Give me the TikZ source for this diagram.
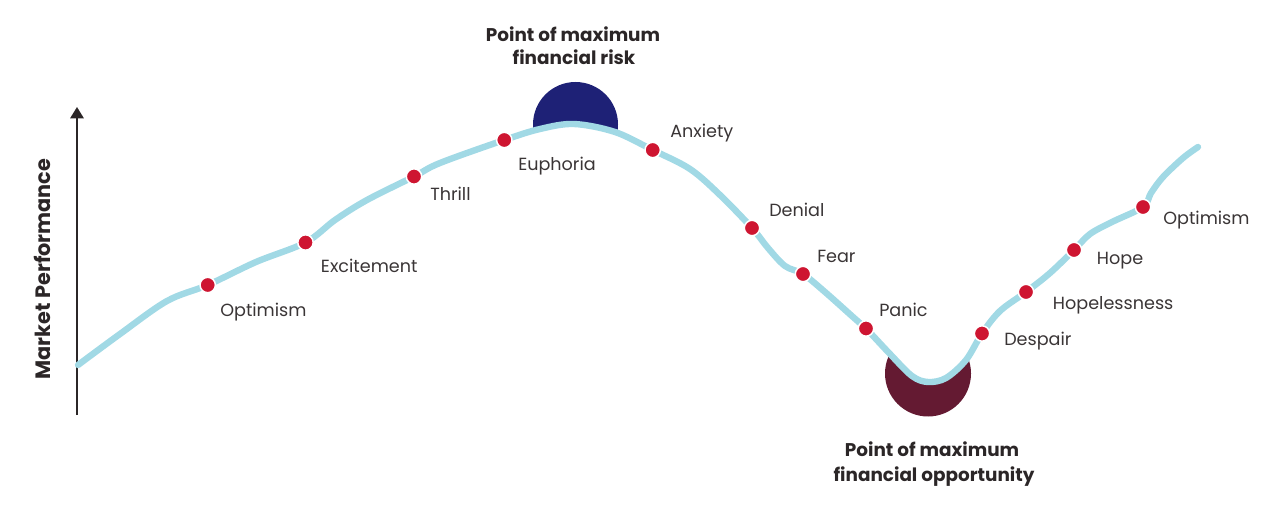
\documentclass[tikz,border=0pt]{standalone}
\usepackage{fontspec}
\setmainfont{Poppins}
\usetikzlibrary{arrows.meta}
\definecolor{curveblue}{HTML}{A1D9E5}
\definecolor{dotred}{HTML}{CE1531}
\definecolor{risknavy}{HTML}{1E2176}
\definecolor{oppred}{HTML}{641A32}
\definecolor{txtgray}{HTML}{3A3536}
\definecolor{ttlgray}{HTML}{2B2627}
\tikzset{
  dotmark/.style={circle,fill=dotred,draw=white,line width=1.1pt,inner sep=0pt,minimum size=11.5pt},
  lbl/.style={anchor=base west,inner sep=0pt,text=txtgray,font=\fontsize{13.2}{16}\selectfont},
  ttl/.style={anchor=base,inner sep=0pt,text=ttlgray,font=\fontsize{13.8}{16}\selectfont\bfseries},
}
\def\curvepath{plot[smooth,tension=0.55] coordinates {(78,365) (120,334) (167,301) (207.7,285) (256,262) (305.5,242.5) (335,220) (367,200) (414,176.5) (440,163) (504.3,140) (540,129) (574,124) (615,132) (652.7,150) (690,169) (720,195) (752,228) (768,248) (785,266) (803,274) (825,292) (853,317) (866,328.5) (890,354) (912,376) (928,382) (946,378) (966,360) (982,333.5) (1000,311) (1026,292) (1050,273) (1074,250) (1090,234) (1112,222) (1143,207) (1151,193) (1163,177) (1183,158) (1198,147)}}
\begin{document}
\begin{tikzpicture}[x=0.75pt,y=-0.75pt]
\useasboundingbox (0,0) rectangle (1280,523);
% highlight discs clipped by the curve
\begin{scope}
  \clip \curvepath -- (1198,0) -- (78,0) -- cycle;
  \fill[risknavy] (575.5,124.5) circle[radius=42.5];
\end{scope}
\begin{scope}
  \clip \curvepath -- (1198,523) -- (78,523) -- cycle;
  \fill[oppred] (928,373.5) circle[radius=43];
\end{scope}
% axis
\coordinate (axbot) at (77,415);
\coordinate (axtop) at (77,107);
\draw[line width=1.5pt,color=ttlgray,-{Triangle[width=10pt,length=8.5pt]}] (axbot) -- (axtop);
\node[rotate=90,anchor=base,inner sep=0pt,text=ttlgray,font=\fontsize{15.6}{18}\selectfont\bfseries] (ylab) at (50,269) {Market Performance};
% curve
\draw[curveblue,line width=4.8pt,line cap=round,line join=round] \curvepath;
% dots
\node[dotmark] (d1) at (207.7,285) {};
\node[dotmark] (d2) at (305.5,242.5) {};
\node[dotmark] (d3) at (414,176.5) {};
\node[dotmark] (d4) at (504.3,140) {};
\node[dotmark] (d5) at (652.7,150) {};
\node[dotmark] (d6) at (752,228) {};
\node[dotmark] (d7) at (803,274) {};
\node[dotmark] (d8) at (866,328.5) {};
\node[dotmark] (d9) at (982,333.5) {};
\node[dotmark] (d10) at (1026,292) {};
\node[dotmark] (d11) at (1074,250) {};
\node[dotmark] (d12) at (1143,207) {};
% labels
\node[lbl] (l1) at (220,317) {Optimism};
\node[lbl] (l2) at (320.7,273) {Excitement};
\node[lbl] (l3) at (430,201) {Thrill};
\node[lbl] (l4) at (518,170.5) {Euphoria};
\node[lbl] (l5) at (670,138) {Anxiety};
\node[lbl] (l6) at (769,217) {Denial};
\node[lbl] (l7) at (817,263) {Fear};
\node[lbl] (l8) at (879,316.5) {Panic};
\node[lbl] (l9) at (1004,346) {Despair};
\node[lbl] (l10) at (1052.7,310) {Hopelessness};
\node[lbl] (l11) at (1096.7,265) {Hope};
\node[lbl] (l12) at (1163,224.5) {Optimism};
% titles
\node[ttl] (t1a) at (573,41.5) {Point of maximum};
\node[ttl] (t1b) at (574,65) {financial risk};
\node[ttl] (t2a) at (932,456.7) {Point of maximum};
\node[ttl] (t2b) at (934,481.7) {financial opportunity};
\end{tikzpicture}
\end{document}
